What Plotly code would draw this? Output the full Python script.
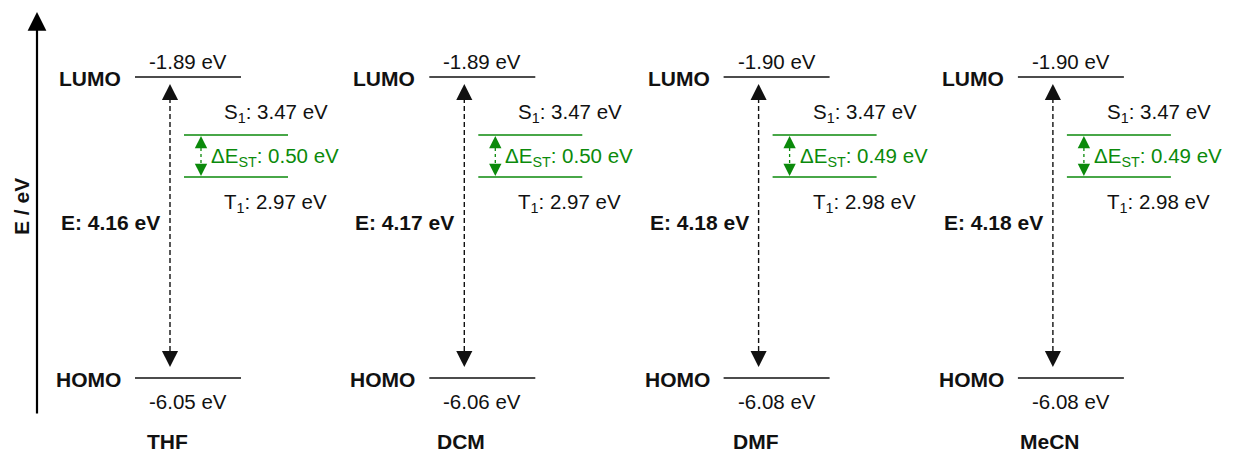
import plotly.graph_objects as go

# ---------------- data ----------------
solvents = ["THF", "DCM", "DMF", "MeCN"]
lumo = [-1.89, -1.89, -1.90, -1.90]
homo = [-6.05, -6.06, -6.08, -6.08]
gap = [4.16, 4.17, 4.18, 4.18]
s1 = [3.47, 3.47, 3.47, 3.47]
t1 = [2.97, 2.97, 2.98, 2.98]
dest = [0.50, 0.50, 0.49, 0.49]

# ---------------- layout constants (schematic diagram coordinates) ----------------
W, H = 1253, 455
X0, DX = 188, 294.3          # centre of first group's HOMO/LUMO line, group spacing
Y_LUMO, Y_HOMO = 77, 378
Y_S1, Y_T1 = 135, 177
FONT = "Liberation Sans, Arial, sans-serif"
FS = 20.5
FSB = 21
BLACK = "#111111"
GREEN = "#0b8a0b"

fig = go.Figure()
shapes, ann = [], []


def hline(x0, x1, y, color, width=1.3):
    shapes.append(dict(type="line", xref="x", yref="y", x0=x0, x1=x1, y0=y, y1=y,
                       line=dict(color=color, width=width)))


def text(x, y, s, size=FS, bold=False, color=BLACK, xanchor="center", angle=0):
    if bold:
        s = "<b>" + s + "</b>"
    ann.append(dict(x=x, y=y, xref="x", yref="y", text=s, showarrow=False,
                    xanchor=xanchor, yanchor="middle", textangle=angle,
                    font=dict(family=FONT, size=size, color=color)))


def head(x, ytip, direction, color, size=1.3, width=1.4, length=10):
    # arrowhead pointing at (x, ytip); direction -1 = up, +1 = down
    ann.append(dict(x=x, y=ytip, xref="x", yref="y", ax=x, ay=ytip - direction * length,
                    axref="x", ayref="y", showarrow=True, arrowhead=2, arrowsize=size,
                    arrowwidth=width, arrowcolor=color, text=""))


def dashed_arrow(x, ytop, ybot, color, dash, width, size, length):
    shapes.append(dict(type="line", xref="x", yref="y", x0=x, x1=x, y0=ytop + 6, y1=ybot - 6,
                       line=dict(color=color, width=width, dash=dash)))
    head(x, ytop, -1, color, size, width, length)
    head(x, ybot, 1, color, size, width, length)


for i, name in enumerate(solvents):
    cx = X0 + DX * i
    # HOMO / LUMO levels
    hline(cx - 53, cx + 53, Y_LUMO, BLACK)
    hline(cx - 53, cx + 53, Y_HOMO, BLACK)
    text(cx, Y_LUMO - 16, f"{lumo[i]:.2f} eV")
    text(cx, Y_HOMO + 23, f"{homo[i]:.2f} eV")
    text(cx - 65, Y_LUMO + 1, "LUMO", size=FSB, bold=True, xanchor="right")
    text(cx - 65, Y_HOMO + 1, "HOMO", size=FSB, bold=True, xanchor="right")
    # gap arrow
    dashed_arrow(cx - 18, Y_LUMO + 7, Y_HOMO - 11, BLACK, "5px,3px", 1.4, 2.3, 14)
    text(cx - 26, 222, f"E: {gap[i]:.2f} eV", size=FSB, bold=True, xanchor="right")
    # S1 / T1 levels
    hline(cx - 4, cx + 100, Y_S1, GREEN)
    hline(cx - 4, cx + 100, Y_T1, GREEN)
    text(cx + 34, Y_S1 - 22, f"S<sub>1</sub>: {s1[i]:.2f} eV", xanchor="left")
    text(cx + 34, Y_T1 + 26, f"T<sub>1</sub>: {t1[i]:.2f} eV", xanchor="left")
    dashed_arrow(cx + 13, Y_S1 + 1, Y_T1 - 1, GREEN, "3px,3px", 1.3, 1.9, 9)
    text(cx + 21, (Y_S1 + Y_T1) / 2 + 1, f"ΔE<sub>ST</sub>: {dest[i]:.2f} eV",
         color=GREEN, xanchor="left")
    # solvent label
    text(cx - 21, 441, name, size=FSB, bold=True)

# energy axis arrow
ann.append(dict(x=37, y=12, xref="x", yref="y", ax=37, ay=415, axref="x", ayref="y",
                showarrow=True, arrowhead=2, arrowsize=1.7, arrowwidth=2.2,
                arrowcolor="black", text=""))
text(21, 207, "E / eV", size=FSB, bold=True, angle=-90)

fig.update_layout(
    width=W, height=H, margin=dict(l=0, r=0, t=0, b=0),
    paper_bgcolor="white", plot_bgcolor="white", showlegend=False,
    shapes=shapes, annotations=ann,
    xaxis=dict(range=[0, W], visible=False, fixedrange=True),
    yaxis=dict(range=[H, 0], visible=False, fixedrange=True),
)
fig.write_html("out.html")
